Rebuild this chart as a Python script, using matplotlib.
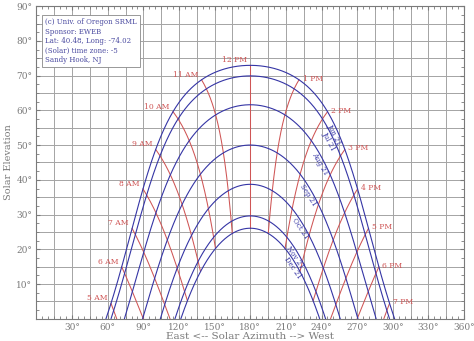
import numpy as np
import matplotlib
matplotlib.use("Agg")
import matplotlib.pyplot as plt
from matplotlib.ticker import MultipleLocator

# site
latitude = 40.48
info_lines = ["(c) Univ. of Oregon SRML", "Sponsor: EWEB", "Lat: 40.48, Long: -74.02",
              "(Solar) time zone: -5", "Sandy Hook, NJ"]

# sun path dates and their declination (deg)
dates = ["Jun 21", "Jul 21", "Aug 21", "Sep 21", "Oct 21", "Nov 21", "Dec 21"]
declinations = [23.44, 20.4, 12.1, 0.5, -10.8, -19.9, -23.44]

# hour lines (solar time)
hours = [5, 6, 7, 8, 9, 10, 11, 12, 13, 14, 15, 16, 17, 18, 19]
hour_labels = ["5 AM", "6 AM", "7 AM", "8 AM", "9 AM", "10 AM", "11 AM", "12 PM",
               "1 PM", "2 PM", "3 PM", "4 PM", "5 PM", "6 PM", "7 PM"]

x_ticks = [30, 60, 90, 120, 150, 180, 210, 240, 270, 300, 330, 360]
y_ticks = [10, 20, 30, 40, 50, 60, 70, 80, 90]

BLUE = "#3535a5"
RED = "#cf5555"
GRAY = "#7a7a7a"
FONT = "DejaVu Serif"


def sun_pos(t, dec):
    lat = np.radians(latitude)
    d = np.radians(dec)
    h = np.radians(15.0 * (np.asarray(t) - 12.0))
    alt = np.arcsin(np.sin(lat) * np.sin(d) + np.cos(lat) * np.cos(d) * np.cos(h))
    az = np.arctan2(np.sin(h), np.cos(h) * np.sin(lat) - np.tan(d) * np.cos(lat))
    return np.degrees(az) + 180.0, np.degrees(alt)


fig = plt.figure(figsize=(4.74, 3.41), dpi=100)
ax = fig.add_axes([0.077, 0.065, 0.902, 0.917])
ax.set_xlim(0, 360)
ax.set_ylim(0, 90)

# grid
ax.xaxis.set_major_locator(MultipleLocator(30))
ax.yaxis.set_major_locator(MultipleLocator(10))
ax.xaxis.set_minor_locator(MultipleLocator(5))
ax.yaxis.set_minor_locator(MultipleLocator(2.5))
for gx in np.arange(15, 360, 15):
    ax.axvline(gx, color="#a4a4a4", lw=0.7, zorder=0)
for gy in np.arange(5, 90, 5):
    ax.axhline(gy, color="#a4a4a4", lw=0.7, zorder=0)

# sun paths
t = np.linspace(3, 21, 1500)
for name, dec in zip(dates, declinations):
    az, alt = sun_pos(t, dec)
    m = alt >= 0
    ax.plot(az[m], alt[m], color=BLUE, lw=0.8, zorder=3)

# hour lines
dec_range = np.linspace(min(declinations), max(declinations), 300)
for hr, lab in zip(hours, hour_labels):
    az, alt = sun_pos(np.full_like(dec_range, hr), dec_range)
    m = alt >= 0
    ax.plot(az[m], alt[m], color=RED, lw=0.75, zorder=2)
    az0, alt0 = sun_pos(hr, max(declinations))
    if hr <= 12:
        ax.text(az0 - 3, alt0 + 0.3, lab, color=RED, fontsize=5.5, family=FONT,
                ha="right", va="bottom")
    else:
        ax.text(az0 + 3, alt0 + 0.3, lab, color=RED, fontsize=5.5, family=FONT,
                ha="left", va="center")

# date labels along the paths
fig.canvas.draw()
for name, dec in zip(dates, declinations):
    a1, e1 = sun_pos(14.25, dec)
    a2, e2 = sun_pos(14.45, dec)
    p1 = ax.transData.transform((a1, e1))
    p2 = ax.transData.transform((a2, e2))
    ang = np.degrees(np.arctan2(p2[1] - p1[1], p2[0] - p1[0]))
    ax.text(a1, e1 - 0.6, name, color=BLUE, fontsize=5, family=FONT, rotation=ang,
            rotation_mode="anchor", ha="left", va="top", zorder=4)

ax.set_xticks(x_ticks)
ax.set_xticklabels([f"{v}\u00b0" for v in x_ticks])
ax.set_yticks(y_ticks)
ax.set_yticklabels([f"{v}\u00b0" for v in y_ticks])
ax.tick_params(which="both", direction="in", top=True, right=True, color=GRAY,
               labelcolor=GRAY, labelsize=6.5, pad=3)
ax.tick_params(which="major", length=3)
ax.tick_params(which="minor", length=2)
for lbl in ax.get_xticklabels() + ax.get_yticklabels():
    lbl.set_family(FONT)
for s in ax.spines.values():
    s.set_color(GRAY)
    s.set_linewidth(0.8)

ax.set_xlabel("East <-- Solar Azimuth --> West", color=GRAY, fontsize=7.5,
              family=FONT, labelpad=0)
ax.set_ylabel("Solar Elevation", color=GRAY, fontsize=7, family=FONT, labelpad=2)

ax.text(0.02, 0.962, "\n".join(info_lines), transform=ax.transAxes, color="#4a4aa0",
        fontsize=5, family=FONT, va="top", ha="left", linespacing=1.25, zorder=5,
        bbox=dict(boxstyle="square,pad=0.4", fc="white", ec="#888888", lw=0.6))

fig.savefig("out.png", dpi=100)
